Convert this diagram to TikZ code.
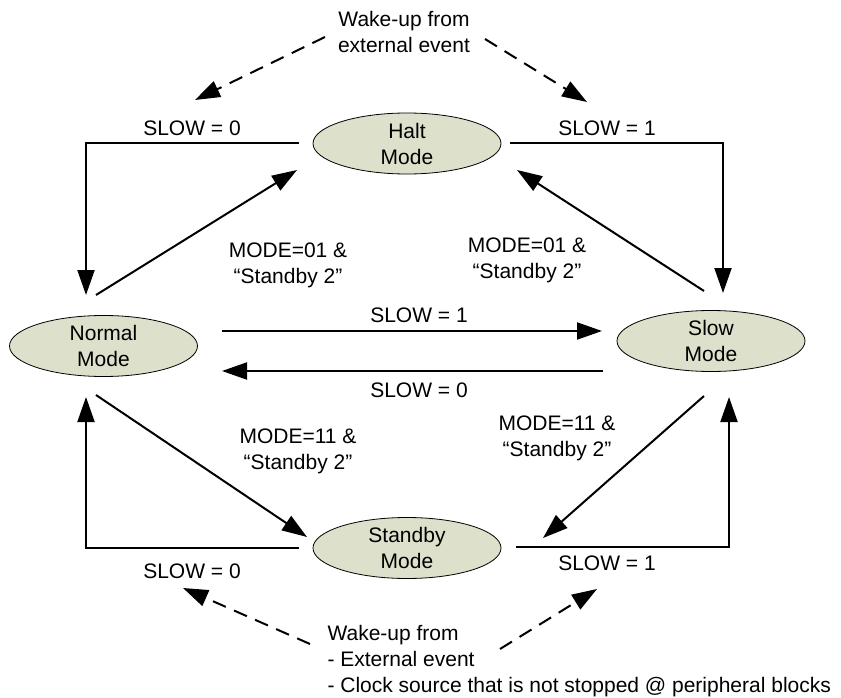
\documentclass[tikz,border=0pt]{standalone}
\usepackage{fontspec}
\setmainfont{Liberation Sans}
\usetikzlibrary{shapes.geometric,arrows.meta}
\definecolor{modefill}{HTML}{DDE0CB}
\tikzset{
  mode/.style={ellipse,draw=black,line width=0.8pt,fill=modefill,minimum width=188pt,minimum height=61pt,inner sep=0pt,align=center},
  trans/.style={line width=2pt,-{Triangle[length=25pt,width=17pt]}},
  wake/.style={trans,dash pattern=on 14pt off 9pt}
}

\begin{document}
\begin{tikzpicture}[x=1pt,y=-1pt,font=\fontsize{21}{26}\selectfont]
  \useasboundingbox (0,0) rectangle (841,698);

  \node[mode] (halt) at (407,143.5) {Halt\\Mode};
  \node[mode] (normal) at (103.5,346) {Normal\\Mode};
  \node[mode] (slow) at (711,341) {Slow\\Mode};
  \node[mode] (standby) at (407,548) {Standby\\Mode};

  \coordinate (haltL) at (299,143);
  \coordinate (haltR) at (510,143);
  \coordinate (haltBL) at (297,170);
  \coordinate (haltBR) at (517,170);
  \coordinate (normalT) at (86,295);
  \coordinate (normalTR) at (96,295);
  \coordinate (normalB) at (86,397);
  \coordinate (normalBR) at (96,395);
  \coordinate (normalU) at (222,331);
  \coordinate (normalD) at (222,371);
  \coordinate (slowT) at (723,293);
  \coordinate (slowTL) at (704,291);
  \coordinate (slowB) at (729,397);
  \coordinate (slowBL) at (704,396);
  \coordinate (slowU) at (602,331);
  \coordinate (slowD) at (603,371);
  \coordinate (standbyL) at (299,548);
  \coordinate (standbyR) at (516,547);
  \coordinate (standbyTL) at (307,537);
  \coordinate (standbyTR) at (543,538);

  \draw[trans] (haltL) -| (normalT);
  \draw[trans] (normalTR) -- (haltBL);
  \draw[trans] (haltR) -| (slowT);
  \draw[trans] (slowTL) -- (haltBR);
  \draw[trans] (normalU) -- (slowU);
  \draw[trans] (slowD) -- (normalD);
  \draw[trans] (normalBR) -- (standbyTL);
  \draw[trans] (standbyL) -| (normalB);
  \draw[trans] (slowBL) -- (standbyTR);
  \draw[trans] (standbyR) -| (slowB);

  \node at (192,128) {SLOW = 0};
  \node at (607,128) {SLOW = 1};
  \node[align=center] at (288,265) {MODE=01 \&\\``Standby 2''};
  \node[align=center] at (527,260) {MODE=01 \&\\``Standby 2''};
  \node at (419,315) {SLOW = 1};
  \node at (419,390) {SLOW = 0};
  \node[align=center] at (298,451) {MODE=11 \&\\``Standby 2''};
  \node[align=center] at (557,438) {MODE=11 \&\\``Standby 2''};
  \node at (192,571) {SLOW = 0};
  \node at (607,563) {SLOW = 1};

  \node[align=center] (wakeTop) at (404,32) {Wake-up from\\external event};
  \coordinate (wakeTopL) at (325,37);
  \coordinate (wakeTopR) at (485,39);
  \coordinate (tipTL) at (195,100);
  \coordinate (tipTR) at (587,102);
  \draw[wake] (wakeTopL) -- (tipTL);
  \draw[wake] (wakeTopR) -- (tipTR);

  \node[anchor=west,align=left] (wakeBot) at (324,661) {Wake-up from\\- External event\\- Clock source that is not stopped @ peripheral blocks};
  \coordinate (wakeBotL) at (310,644);
  \coordinate (wakeBotR) at (500,649);
  \coordinate (tipBL) at (183,588);
  \coordinate (tipBR) at (597,589);
  \draw[wake] (wakeBotL) -- (tipBL);
  \draw[wake] (wakeBotR) -- (tipBR);
\end{tikzpicture}
\end{document}
